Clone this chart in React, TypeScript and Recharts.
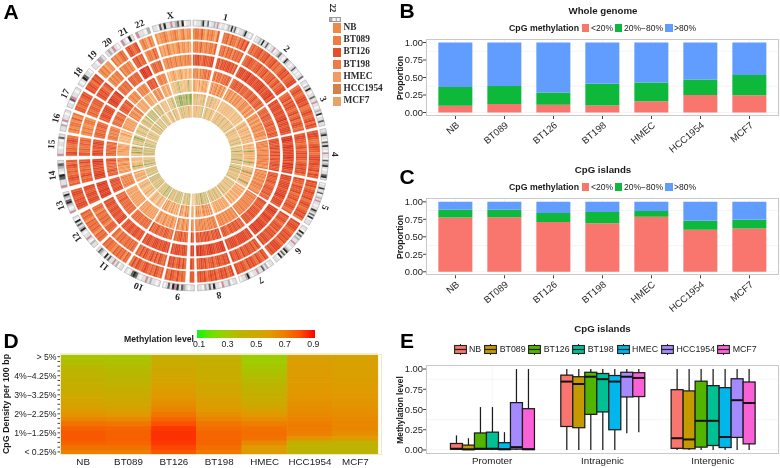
import React from 'react';
import {
  BarChart,
  Bar,
  Cell,
  CartesianGrid,
  PieChart,
  Pie,
  XAxis,
  YAxis,
} from 'recharts';

const samples = ['NB', 'BT089', 'BT126', 'BT198', 'HMEC', 'HCC1954', 'MCF7'];

// B: whole genome, share below 20% and share below 80%
const genomeLow = [0.096, 0.12, 0.11, 0.1, 0.16, 0.25, 0.245];
const genomeMidTop = [0.365, 0.38, 0.285, 0.41, 0.43, 0.47, 0.535];

// C: CpG islands
const islandLow = [0.775, 0.78, 0.71, 0.695, 0.785, 0.6, 0.62];
const islandMidTop = [0.885, 0.885, 0.84, 0.855, 0.87, 0.73, 0.745];

const proportionTicks = [0, 0.25, 0.5, 0.75, 1];
const proportionMinor = [0.125, 0.375, 0.625, 0.875];

// D: rows run bottom (< 0.25%) to top (> 5%)
const densityNB = [0.68, 0.72, 0.76, 0.78, 0.78, 0.76, 0.72, 0.66, 0.62, 0.58, 0.55, 0.53, 0.5, 0.48, 0.46, 0.44, 0.42, 0.4, 0.38, 0.36, 0.33];
const densityBT089 = [0.68, 0.72, 0.75, 0.76, 0.76, 0.75, 0.71, 0.65, 0.6, 0.56, 0.53, 0.51, 0.48, 0.46, 0.43, 0.41, 0.39, 0.38, 0.36, 0.35, 0.32];
const densityBT126 = [0.78, 0.81, 0.83, 0.84, 0.84, 0.83, 0.8, 0.75, 0.71, 0.67, 0.64, 0.62, 0.6, 0.58, 0.56, 0.54, 0.53, 0.51, 0.5, 0.48, 0.45];
const densityBT198 = [0.7, 0.73, 0.75, 0.75, 0.75, 0.73, 0.71, 0.67, 0.63, 0.6, 0.58, 0.56, 0.54, 0.52, 0.51, 0.49, 0.48, 0.47, 0.46, 0.45, 0.43];
const densityHMEC = [0.58, 0.59, 0.66, 0.72, 0.73, 0.72, 0.69, 0.64, 0.6, 0.55, 0.51, 0.48, 0.45, 0.42, 0.4, 0.38, 0.36, 0.34, 0.32, 0.3, 0.29];
const densityHCC1954 = [0.4, 0.41, 0.45, 0.62, 0.68, 0.69, 0.69, 0.67, 0.65, 0.64, 0.63, 0.62, 0.61, 0.6, 0.6, 0.59, 0.59, 0.58, 0.58, 0.57, 0.56];
const densityMCF7 = [0.4, 0.4, 0.43, 0.59, 0.64, 0.66, 0.66, 0.65, 0.64, 0.63, 0.62, 0.61, 0.6, 0.59, 0.59, 0.58, 0.57, 0.57, 0.56, 0.56, 0.55];
const densityColumns = [densityNB, densityBT089, densityBT126, densityBT198, densityHMEC, densityHCC1954, densityMCF7];
const densityLabels: Record<number, string> = {
  0: '< 0.25%',
  4: '1%\u22121.25%',
  8: '2%\u22122.25%',
  12: '3%\u22123.25%',
  16: '4%\u22124.25%',
  20: '> 5%',
};
const scaleLabels = ['0.1', '0.3', '0.5', '0.7', '0.9'];

// E: [whisker low, q1, median, q3, whisker high] for Promoter, Intragenic, Intergenic
const regions = ['Promoter', 'Intragenic', 'Intergenic'];
const boxNB = [[0, 0.01, 0.015, 0.08, 0.18], [0, 0.29, 0.845, 0.925, 1], [0, 0.02, 0.145, 0.745, 1]];
const boxBT089 = [[0, 0.005, 0.008, 0.06, 0.145], [0, 0.275, 0.815, 0.905, 1], [0, 0.015, 0.13, 0.73, 1]];
const boxBT126 = [[0, 0.01, 0.015, 0.21, 0.53], [0, 0.44, 0.905, 0.96, 1], [0, 0.035, 0.36, 0.85, 1]];
const boxBT198 = [[0, 0.01, 0.015, 0.22, 0.53], [0, 0.47, 0.875, 0.945, 1], [0, 0.055, 0.36, 0.795, 1]];
const boxHMEC = [[0, 0.005, 0.01, 0.09, 0.22], [0, 0.25, 0.845, 0.92, 1], [0, 0.03, 0.16, 0.77, 1]];
const boxHCC1954 = [[0, 0.01, 0.035, 0.585, 1], [0.205, 0.655, 0.905, 0.96, 1], [0, 0.155, 0.615, 0.88, 1]];
const boxMCF7 = [[0, 0.005, 0.01, 0.51, 1], [0.22, 0.66, 0.89, 0.955, 1], [0, 0.075, 0.58, 0.84, 1]];
const boxSeries = [boxNB, boxBT089, boxBT126, boxBT198, boxHMEC, boxHCC1954, boxMCF7];
const boxColors = ['#F8766D', '#C49A00', '#53B400', '#00C094', '#00B6EB', '#A58AFF', '#FB61D7'];

// A: chromosome arcs in degrees and the gap after each one
const chromNames = ['1', '2', '3', '4', '5', '6', '7', '8', '9', '10', '11', '12', '13', '14', '15', '16', '17', '18', '19', '20', '21', '22', 'X'];
const chromArc = [26.8, 27, 21.3, 22.3, 19.3, 19.8, 16.3, 17.3, 13.8, 16.3, 13.8, 15.8, 9.5, 12, 9.5, 9.3, 9.3, 8.3, 6.8, 6.8, 5.8, 6.3, 16.8];
const chromGap = [1.4, 1.4, 1.4, 1.4, 1.4, 1.4, 1.4, 1.4, 1.4, 1.4, 1.4, 2, 2, 2, 1.4, 1.4, 1.4, 1.4, 1.4, 1.4, 1.4, 1.4, 1];

// heat level per stripe, one block per chromosome, '.' = no data
const ringNB = '5665754656547..6675766576868 676778677867786766787867788 678767887866787678687 7887667877678878778687 8786787786787678786 87887678787867888787 7867867878678778 87687876878768787 77..676867867 7678676787678686 67576767566767 6767567676756767 7887877887 767876767867 7867667876 565665756 776776787 87876878 5656455 6565676 787678 565465 54556545565456455';
const ringBT089 = '5665755656657..6675767576767 677877677867786777867867788 677868787678678678767 7887767867878767878786 8776877867786778767 87787678786878778878 7868778778678778 87877876877687877 78..686876878 7678686876786867 67676766767567 6777567676675676 7887887788 776876767687 7767667676 565655665 676776777 78787678 5656566 6566565 778677 566576 54546545456455454';
const ringBT126 = '7788767877788..7868787887868 788878897888788889787888978 887888788788978878887 8998789888889887989878 8887888878889878887 88988789887889888988 8878888887888878 89888788988788989 88..788788878 8788787888778878 78778877887787 8887788788778878 8988988898 889887878898 8887787887 677676776 778878887 88988789 6766767 7776777 899889 677677 55656556556556565';
const ringBT198 = '5656465667576..6757675767686 677877786777677867787677867 677768777677867776877 7887788778787787788778 7787778767787778677 88777867878788778787 7768778778767787 87877867878778687 78..677687767 7667786776786768 67676766767676 6767677676786767 7887787887 776876767687 7767677667 566565665 676677667 77877687 5565565 6565665 878778 566565 43445434454344344';
const ringHMEC = '4544353454453..4645564565464 546554654655645465654565465 556546545655654656545 6565655656565665656556 6556565565566565556 65665656566565665656 6556556556556565 56656565565656556 56..564565456 5456455456454564 54545454554545 4545454545445454 5665656565 554554654565 4545454544 343434534 554545454 65565466 4454454 4545344 565465 454354 33232213233232123';
const ringHCC1954 = '3423132342314..2423142342334 343232434234234332432342343 342523425344325235342 3543534024434352340243 4342504353424350423 45345354534543454354 3545354535453543 46364645653546463 45..364643546 3535346354354635 34345233435243 3432534233425342 4543545435 342042433424 2340312403 132312013 231232312 34212321 1213121 2134212 243232 232312 12120102112012101';
const ringMCF7 = '3243132343231..2314232341343 234231434234123432134234312 324132433233241343123 3132320323143132403231 2313032412343132413 23132432132343143214 3123241231324132 12312312023134132 23..213123213 1321312133213421 21313023132134 2131231323142131 2123213124 132023121323 3121341231 213132313 231321323 21312341 2132312 1321323 232413 213243 32312313234314323';
const ringLevels = [ringNB, ringBT089, ringBT126, ringBT198, ringHMEC, ringHCC1954, ringMCF7];
const heatPalette = ['#6fa64a', '#a8b868', '#e0bb80', '#f7c78c', '#f5ac6e', '#f19250', '#ec7640', '#e65e32', '#e04628', '#d6321e'];
const ringSwatches = ['#f08848', '#f07c40', '#e55028', '#ef7a45', '#f59a60', '#d4824a', '#e8a468'];
const ringRadii = [[116, 127], [103, 114], [90, 100.7], [77, 87], [64, 75.7], [50.7, 61.7], [38.3, 49.7]];

// ideogram bands: w white, l light, m mid, d dark, k black, r centromere
const ideograms = [
  'lwlllmklldwllmlrlwllwlmlkldlwlllmkllwl', 'wllmlklldlwllrwllmdllwlkmllwlldlwlwlld', 'llwmlklwlldllrllwlmlkwlldll', 'llmkllwdlkllwrllwdlmklwlldkl', 'wllklldwlmlrllwllkmldlkwlll', 'llwkldlmllrllwlmkldlkwll',
  'llwmldllrllwlkmllw', 'llwmllrwllkldlmwll', 'llwlmdlkrkldlw', 'lwllmlrllwldkdlwl', 'llwmlrlldlkwlmdl', 'llmwlrllwlkmldlkwl',
  'rlwlmkdlmkl', 'rlldkwlmdl', 'rllwllwdl', 'llmwrllwl', 'llwdrllwl', 'lwlkdllw', 'llwrml', 'lmlrlw', 'rlwkl', 'rllwm', 'llwdlkllrlmdlkwll',
];
const ideogramColors: Record<string, string> = { w: '#f6f6f6', l: '#e0e0e0', m: '#b0b0b0', d: '#606060', k: '#242424', r: '#d08a9c' };
const legendIdeogram = 'mrlwlmwl';

const keyX = [453.5, 484.3, 528.3, 572.3, 616.7, 661, 717.3];

const heatStops: [number, string][] = [
  [0.1, '#10f510'],
  [0.2, '#70e000'],
  [0.3, '#a0cc00'],
  [0.4, '#bcb400'],
  [0.5, '#ccaa00'],
  [0.6, '#e09a00'],
  [0.7, '#f07a00'],
  [0.8, '#fa5000'],
  [0.9, '#ff0000'],
];

function heatColor(v: number) {
  for (let i = 1; i < heatStops.length; i++) {
    const [v1, c1] = heatStops[i];
    if (v <= v1) {
      const [v0, c0] = heatStops[i - 1];
      const t = (v - v0) / (v1 - v0);
      const ch = (c: string, p: number) => parseInt(c.slice(p, p + 2), 16);
      const mix = [1, 3, 5].map((p) => Math.round(ch(c0, p) + (ch(c1, p) - ch(c0, p)) * t));
      return `rgb(${mix.join(',')})`;
    }
  }
  return '#ff0000';
}

function Txt({ x, y, size, bold, rotate = 0, align = 'center', serif, color = '#1a1a1a', children }: any) {
  const shift = align === 'left' ? '0' : '-50%';
  return (
    <div
      style={{
        position: 'absolute',
        left: x,
        top: y,
        fontSize: size,
        fontWeight: bold ? 700 : 400,
        fontFamily: serif ? '"Liberation Serif"' : '"Liberation Sans"',
        color,
        lineHeight: 1,
        whiteSpace: 'nowrap',
        transform: `translate(${shift}, -50%) rotate(${rotate}deg)`,
      }}
    >
      {children}
    </div>
  );
}

function Frame({ left, top, width, height, color = '#c9c9c9' }: any) {
  return (
    <div
      style={{
        position: 'absolute',
        left,
        top,
        width,
        height,
        boxSizing: 'border-box',
        border: `1.4px solid ${color}`,
        pointerEvents: 'none',
      }}
    />
  );
}

function ringRows(levels: string) {
  const rows: { value: number; fill: string }[] = [];
  levels.split(' ').forEach((block, c) => {
    for (const ch of block) {
      rows.push({
        value: chromArc[c] / block.length,
        fill: ch === '.' ? 'none' : heatPalette[Number(ch)],
      });
    }
    rows.push({ value: chromGap[c], fill: 'none' });
  });
  return rows;
}

function ideogramRows() {
  const rows: { value: number; fill: string }[] = [];
  ideograms.forEach((bands, c) => {
    for (const ch of bands) {
      rows.push({ value: chromArc[c] / bands.length, fill: ideogramColors[ch] });
    }
    rows.push({ value: chromGap[c], fill: 'none' });
  });
  return rows;
}

const chromRows = chromNames.flatMap((name, c) => [
  { name, value: chromArc[c], outline: true },
  { name: '', value: chromGap[c], outline: false },
]);

function chromLabel(props: any) {
  const { cx, cy, midAngle, name } = props;
  if (!name) return <g key={`gap-${midAngle}`} />;
  const rad = (midAngle * Math.PI) / 180;
  const px = cx + 142 * Math.cos(rad);
  const py = cy - 142 * Math.sin(rad);
  return (
    <text
      key={name}
      x={px}
      y={py}
      fontSize={9.5}
      fontFamily='"Liberation Serif"'
      fontWeight={700}
      fill="#222"
      textAnchor="middle"
      dominantBaseline="central"
      transform={`rotate(${90 - midAngle} ${px} ${py})`}
    >
      {name}
    </text>
  );
}

function CircosPanel() {
  const bands = ideogramRows();
  return (
    <div style={{ position: 'absolute', left: 0, top: 0, filter: 'blur(0.3px)' }}>
      <PieChart width={390} height={320} margin={{ top: 0, right: 0, bottom: 0, left: 0 }}>
        {ringLevels.map((levels, r) => {
          const rows = ringRows(levels);
          return (
            <Pie
              key={samples[r]}
              data={rows}
              dataKey="value"
              cx={193}
              cy={155.5}
              startAngle={90}
              endAngle={-270}
              innerRadius={ringRadii[r][0]}
              outerRadius={ringRadii[r][1]}
              stroke="none"
              isAnimationActive={false}
            >
              {rows.map((row, i) => (
                <Cell key={i} fill={row.fill} stroke={row.fill} strokeWidth={row.fill === 'none' ? 0 : 0.2} />
              ))}
            </Pie>
          );
        })}
        <Pie
          data={bands}
          dataKey="value"
          cx={193}
          cy={155.5}
          startAngle={90}
          endAngle={-270}
          innerRadius={129.5}
          outerRadius={135.5}
          stroke="none"
          isAnimationActive={false}
        >
          {bands.map((row, i) => (
            <Cell key={i} fill={row.fill} stroke={row.fill} strokeWidth={row.fill === 'none' ? 0 : 0.25} />
          ))}
        </Pie>
        <Pie
          data={chromRows}
          dataKey="value"
          nameKey="name"
          cx={193}
          cy={155.5}
          startAngle={90}
          endAngle={-270}
          innerRadius={129.5}
          outerRadius={135.5}
          label={chromLabel}
          labelLine={false}
          isAnimationActive={false}
        >
          {chromRows.map((row, i) => (
            <Cell key={i} fill="none" stroke={row.outline ? '#a0a0a0' : 'none'} strokeWidth={0.5} />
          ))}
        </Pie>
      </PieChart>
    </div>
  );
}

function CircosLegend() {
  return (
    <>
      <Txt x={333} y={8} size={8.5} serif bold rotate={90}>22</Txt>
      <div style={{ position: 'absolute', left: 328.5, top: 17, width: 12.5, height: 5, display: 'flex', border: '0.5px solid #999', boxSizing: 'border-box' }}>
        {legendIdeogram.split('').map((ch, i) => (
          <div key={i} style={{ flex: 1, background: ideogramColors[ch] }} />
        ))}
      </div>
      {samples.map((name, i) => (
        <React.Fragment key={name}>
          <div style={{ position: 'absolute', left: 333, top: 23.3 + i * 12.2, width: 8, height: 9.5, background: ringSwatches[i] }} />
          <Txt x={343.5} y={28 + i * 12.2} size={9.3} serif bold align="left" color="#2a2a2a">{name}</Txt>
        </React.Fragment>
      ))}
    </>
  );
}

function StackedPanel({ low, midTop, top, plotTop, title, legendY, titleY }: any) {
  const rows = samples.map((name, i) => ({
    name,
    low: low[i],
    mid: midTop[i] - low[i],
    high: 1 - midTop[i],
  }));
  return (
    <>
      <div style={{ position: 'absolute', left: 390, top }}>
        <BarChart
          width={390}
          height={160}
          data={rows}
          margin={{ top: plotTop, right: 1, bottom: 0, left: 0 }}
          barCategoryGap="15%"
        >
          <CartesianGrid stroke="#f3f3f3" strokeWidth={0.8} horizontalValues={[...proportionTicks, ...proportionMinor]} />
          <XAxis
            dataKey="name"
            height={160 - plotTop - 77}
            interval={0}
            padding={{ left: 5, right: 5 }}
            angle={-40}
            textAnchor="end"
            tickSize={3}
            tickMargin={2}
            axisLine={false}
            tick={{ fontSize: 9.6, fill: '#2a2a2a' }}
            tickLine={{ stroke: '#444' }}
          />
          <YAxis
            width={36}
            domain={[-0.05, 1.05]}
            ticks={proportionTicks}
            tickFormatter={(v: number) => v.toFixed(2)}
            tickSize={3}
            tickMargin={0}
            axisLine={false}
            tick={{ fontSize: 9.4, fill: '#222' }}
            tickLine={{ stroke: '#444' }}
          />
          <Bar dataKey="low" stackId="a" fill="#F8766D" isAnimationActive={false} />
          <Bar dataKey="mid" stackId="a" fill="#0DB83B" isAnimationActive={false} />
          <Bar dataKey="high" stackId="a" fill="#619CFF" isAnimationActive={false} />
        </BarChart>
      </div>
      <Frame left={426} top={top + plotTop} width={353} height={77} />
      <Txt x={603} y={titleY} size={9.7} bold>{title}</Txt>
      <Txt x={509} y={legendY} size={8.75} bold align="left">CpG methylation</Txt>
      <div style={{ position: 'absolute', left: 581.7, top: legendY - 4, width: 7.4, height: 8, background: '#F8766D' }} />
      <Txt x={591} y={legendY} size={8.5} align="left">{'<20%'}</Txt>
      <div style={{ position: 'absolute', left: 615, top: legendY - 4, width: 7.4, height: 8, background: '#0DB83B' }} />
      <Txt x={624} y={legendY} size={8.5} align="left">{'20%\u221280%'}</Txt>
      <div style={{ position: 'absolute', left: 665.4, top: legendY - 4, width: 7.4, height: 8, background: '#619CFF' }} />
      <Txt x={674} y={legendY} size={8.5} align="left">{'>80%'}</Txt>
      <Txt x={400} y={top + plotTop + 39} size={8.6} bold rotate={-90}>Proportion</Txt>
    </>
  );
}

function HeatPanel() {
  const rowIds = densityNB.map((_, r) => r);
  const rows = samples.map((name) => {
    const row: Record<string, any> = { name };
    rowIds.forEach((r) => {
      row[`r${r}`] = 1;
    });
    return row;
  });
  const gradient = heatStops.map(([, c]) => c).join(',');
  return (
    <>
      <div style={{ position: 'absolute', left: 0, top: 320 }}>
        <BarChart
          width={390}
          height={148}
          data={rows}
          margin={{ top: 34.3, right: 8.5, bottom: 0, left: 0 }}
          barCategoryGap={0}
        >
          <XAxis
            dataKey="name"
            height={13.7}
            interval={0}
            padding={{ left: 0, right: 3.5 }}
            tickLine={false}
            axisLine={false}
            tickMargin={0}
            dy={-2.5}
            tick={{ fontSize: 9.8, fill: '#222' }}
          />
          <YAxis
            width={60.5}
            type="number"
            domain={[0, 21]}
            ticks={rowIds.map((r) => r + 0.5)}
            interval={0}
            tickFormatter={(v: number) => densityLabels[v - 0.5] ?? ''}
            tickSize={3}
            tickMargin={1}
            axisLine={false}
            tick={{ fontSize: 8.7, fill: '#222' }}
            tickLine={{ stroke: '#444' }}
          />
          {rowIds.map((r) => (
            <Bar key={r} dataKey={`r${r}`} stackId="heat" isAnimationActive={false}>
              {samples.map((name, c) => {
                const fill = heatColor(densityColumns[c][r]);
                return <Cell key={name} fill={fill} stroke={fill} strokeWidth={1} />;
              })}
            </Bar>
          ))}
        </BarChart>
      </div>
      <Frame left={60} top={354} width={322} height={100.5} color="#f1e9c8" />
      <Txt x={5.5} y={404} size={8.9} bold rotate={-90}>CpG Density per 100 bp</Txt>
      <Txt x={159} y={338.7} size={8.7} bold>Methylation level</Txt>
      <div style={{ position: 'absolute', left: 196.7, top: 330, width: 118.5, height: 7.5, background: `linear-gradient(to right, ${gradient})` }} />
      {scaleLabels.map((label, i) => (
        <Txt key={label} x={199 + i * 28.6} y={344} size={8.7}>{label}</Txt>
      ))}
    </>
  );
}

function BoxShape(props: any) {
  const { x, y, width, height, series, payload } = props;
  const [lo, q1, med, q3, hi] = boxSeries[series][regions.indexOf(payload.name)];
  const perUnit = height / (q3 - q1);
  const toY = (v: number) => y + (q3 - v) * perUnit;
  const mid = x + width / 2;
  return (
    <g>
      <line x1={mid} x2={mid} y1={toY(hi)} y2={toY(lo)} stroke="#1c1c1c" strokeWidth={1.25} />
      <rect x={x} y={y} width={width} height={height} fill={boxColors[series]} stroke="#1c1c1c" strokeWidth={1.25} />
      <line x1={x} x2={x + width} y1={toY(med)} y2={toY(med)} stroke="#111" strokeWidth={2} />
    </g>
  );
}

function BoxPanel() {
  const rows = regions.map((name, g) => {
    const row: Record<string, any> = { name };
    samples.forEach((s, i) => {
      row[s] = [boxSeries[i][g][1], boxSeries[i][g][3]];
    });
    return row;
  });
  return (
    <>
      <div style={{ position: 'absolute', left: 390, top: 320 }}>
        <BarChart
          width={390}
          height={148}
          data={rows}
          margin={{ top: 45, right: 1, bottom: 0, left: 0 }}
          barCategoryGap="12.2%"
          barGap={0}
        >
          <CartesianGrid stroke="#f3f3f3" strokeWidth={0.8} horizontalValues={[...proportionTicks, ...proportionMinor]} />
          <XAxis
            dataKey="name"
            height={14}
            interval={0}
            padding={{ left: 11, right: 11 }}
            tickLine={false}
            axisLine={false}
            tickMargin={0}
            dy={-2.5}
            tick={{ fontSize: 9.8, fill: '#222' }}
          />
          <YAxis
            width={36}
            domain={[-0.05, 1.05]}
            ticks={proportionTicks}
            tickFormatter={(v: number) => v.toFixed(2)}
            tickSize={3}
            tickMargin={0}
            axisLine={false}
            tick={{ fontSize: 9.4, fill: '#222' }}
            tickLine={{ stroke: '#444' }}
          />
          {samples.map((s, i) => (
            <Bar
              key={s}
              dataKey={s}
              isAnimationActive={false}
              shape={(p: any) => <BoxShape {...p} series={i} />}
            />
          ))}
        </BarChart>
      </div>
      <Frame left={426} top={365} width={353} height={89} />
      <Txt x={602.5} y={329} size={9.7} bold>CpG islands</Txt>
      {samples.map((name, i) => (
        <React.Fragment key={name}>
          <svg style={{ position: 'absolute', left: keyX[i], top: 343.5 }} width={13} height={11}>
            <line x1={6.5} x2={6.5} y1={0} y2={11} stroke="#222" strokeWidth={1} />
            <rect x={0.6} y={1.5} width={11.8} height={8} fill={boxColors[i]} stroke="#222" strokeWidth={1.1} />
            <line x1={0.6} x2={12.4} y1={5.5} y2={5.5} stroke="#222" strokeWidth={1.2} />
          </svg>
          <Txt x={keyX[i] + 15.4} y={349} size={8.8} align="left">{name}</Txt>
        </React.Fragment>
      ))}
      <Txt x={400} y={410} size={8.4} bold rotate={-90}>Methylation level</Txt>
    </>
  );
}

export default function App() {
  return (
    <div
      style={{
        position: 'fixed',
        left: 0,
        top: 0,
        width: 780,
        height: 468,
        background: '#fff',
        overflow: 'hidden',
        fontFamily: '"Liberation Sans"',
        filter: 'blur(0.25px)',
      }}
    >
      <CircosPanel />
      <CircosLegend />
      <StackedPanel low={genomeLow} midTop={genomeMidTop} top={0} plotTop={39} title="Whole genome" titleY={11} legendY={28} />
      <StackedPanel low={islandLow} midTop={islandMidTop} top={155} plotTop={43.3} title="CpG islands" titleY={169.5} legendY={186.7} />
      <HeatPanel />
      <BoxPanel />
      <Txt x={11} y={11} size={21} bold color="#000">A</Txt>
      <Txt x={407} y={10} size={21} bold color="#000">B</Txt>
      <Txt x={407} y={176} size={21} bold color="#000">C</Txt>
      <Txt x={11} y={340} size={21} bold color="#000">D</Txt>
      <Txt x={407} y={340} size={21} bold color="#000">E</Txt>
    </div>
  );
}
